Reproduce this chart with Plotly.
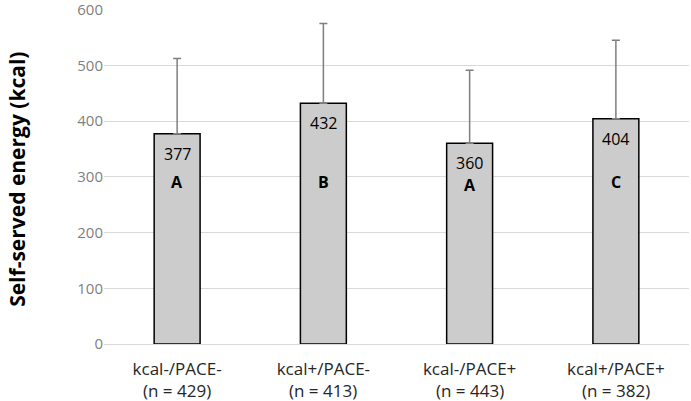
import plotly.graph_objects as go

groups = ["kcal-/PACE-", "kcal+/PACE-", "kcal-/PACE+", "kcal+/PACE+"]
n_counts = [429, 413, 443, 382]
means = [377, 432, 360, 404]
sd_plus = [135, 143, 131, 141]
letters = ["A", "B", "A", "C"]
letter_y = [290, 290, 285, 290]
y_ticks = [0, 100, 200, 300, 400, 500, 600]

FONT = "Open Sans"

fig = go.Figure()

fig.add_trace(go.Bar(
    x=groups, y=means,
    marker=dict(color="#cccccc", line=dict(color="#000000", width=1.5)),
    error_y=dict(type="data", symmetric=False, array=sd_plus,
                 arrayminus=[0] * len(means),
                 color="#7f7f7f", thickness=1.5, width=4),
    showlegend=False,
    hoverinfo="skip",
))

# value labels just under the bar tops
for g, m in zip(groups, means):
    fig.add_annotation(x=g, y=m, text=str(m), showarrow=False,
                       yanchor="top", yshift=-7,
                       font=dict(family=FONT, size=16, color="#000000"))

# significance letters
for g, lt, ly in zip(groups, letters, letter_y):
    fig.add_annotation(x=g, y=ly, text="<b>" + lt + "</b>", showarrow=False,
                       font=dict(family=FONT, size=16, color="#000000"))

# second line of the category labels (sample sizes)
for g, n in zip(groups, n_counts):
    fig.add_annotation(x=g, y=0, text="(n = %d)" % n, showarrow=False,
                       yanchor="middle", yshift=-46,
                       font=dict(family=FONT, size=17, color="#262626"))

# y axis title
fig.add_annotation(xref="paper", yref="paper", x=-87 / 585, y=0.49,
                   xanchor="center", yanchor="middle", textangle=-90,
                   text="<b>Self-served energy (kcal)</b>", showarrow=False,
                   font=dict(family=FONT, size=21, color="#000000"))

fig.update_layout(
    width=691, height=401,
    margin=dict(l=104, r=2, t=9, b=57),
    paper_bgcolor="white", plot_bgcolor="white",
    bargap=0.686,
    font=dict(family=FONT),
    xaxis=dict(showline=False, ticks="", automargin=False,
               ticklabelstandoff=13,
               tickfont=dict(family=FONT, size=17, color="#262626")),
    yaxis=dict(range=[0, 601], tickvals=y_ticks, showline=False,
               automargin=False, ticklabeloverflow="allow",
               gridcolor="#d9d9d9", gridwidth=1,
               zeroline=True, zerolinecolor="#d9d9d9", zerolinewidth=1,
               ticks="", ticklen=0,
               tickfont=dict(family=FONT, size=15, color="#7f7f7f")),
)

fig.write_html("out.html", config={"displayModeBar": False},
               post_script="document.body.style.margin = '0';")
